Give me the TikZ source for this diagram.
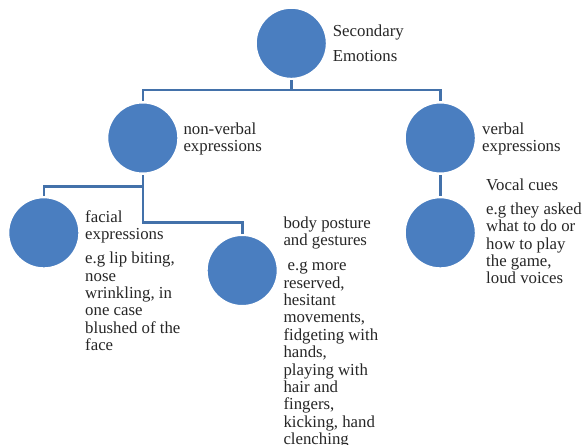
\documentclass[tikz,border=0pt]{standalone}
\usepackage{fontspec}
\setmainfont{Liberation Serif}
\usepackage{xcolor}
\usepackage{tikz}
\usetikzlibrary{shapes}
\definecolor{bubbleblue}{RGB}{74,126,192}
\definecolor{linkblue}{RGB}{67,113,170}

\begin{document}
\begin{tikzpicture}[x={(1pt,0)}, y={(0,-1pt)},
    bubble/.style={circle, fill=bubbleblue, draw=white, line width=2.5pt, minimum size=71.5pt, inner sep=0pt},
    link/.style={draw=linkblue, line width=2.6pt},
    caption/.style={anchor=north west, inner sep=0pt, align=left, text=black!85,
        font=\fontsize{16.8}{17.4}\selectfont}]
    \useasboundingbox (0,0) rectangle (582,445);

    % Circles
    \node[bubble] (secondary) at (291.3,43.3) {};
    \node[bubble] (nonverbal) at (142.8,138) {};
    \node[bubble] (verbal) at (440.3,138) {};
    \node[bubble] (facial) at (43.8,232.8) {};
    \node[bubble] (body) at (242.2,270.5) {};
    \node[bubble] (vocal) at (440.3,232.8) {};

    % Connectors
    \coordinate (topbar) at (291.3,90);
    \coordinate (nvbar) at (142.8,186.7);
    \coordinate (nvelbow) at (142.8,222.7);
    \draw[link] (secondary.south) -- (topbar);
    \draw[link] (nonverbal.north) |- (topbar) -| (verbal.north);
    \draw[link] (nonverbal.south) -- (nvelbow) -| (body.north);
    \draw[link] (facial.north) |- (nvbar);
    \draw[link] (verbal.south) -- (vocal.north);

    % Labels
    \node[caption] (secondarytext) at (332.7,24.5) {Secondary\\[7.3pt]Emotions};
    \node[caption] (nonverbaltext) at (183.3,122.2) {non-verbal\\expressions};
    \node[caption] (verbaltext) at (482,122.5) {verbal\\expressions};
    \node[caption] (vocaltext) at (486,178.5) {Vocal cues\\[6.6pt]e.g they asked\\what to do or\\how to play\\the game,\\loud voices};
    \node[caption] (facialtext) at (85,210.2) {facial\\expressions\\[6.6pt]e.g lip biting,\\nose\\wrinkling, in\\one case\\blushed of the\\face};
    \node[caption] (bodytext) at (283.3,216.5) {body posture\\and gestures\\[7.6pt]\ e.g more\\reserved,\\hesitant\\movements,\\fidgeting with\\hands,\\playing with\\hair and\\fingers,\\kicking, hand\\clenching};
\end{tikzpicture}
\end{document}
